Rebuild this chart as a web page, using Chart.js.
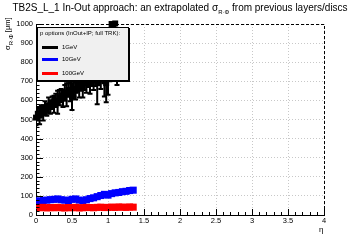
<!DOCTYPE html>
<html>
<head>
<meta charset="utf-8">
<script src="https://cdn.jsdelivr.net/npm/chart.js@4.4.0/dist/chart.umd.min.js"></script>
<style>
html, body { margin: 0; padding: 0; background: #fff; }
#wrap { position: relative; width: 360px; height: 240px; font-family: "Liberation Sans", Arial, sans-serif; color: #000; }
#wrap canvas { position: absolute; left: 0; top: 0; }
#title { position: absolute; left: 0; top: 2px; width: 360px; text-align: center; font-size: 10px; white-space: nowrap; }
#title sub, #ytitle sub { font-size: 6px; vertical-align: -3px; line-height: 0; }
#ytitle { position: absolute; left: 3px; top: 50px; font-size: 7.5px; white-space: nowrap; transform: rotate(-90deg); transform-origin: left top; line-height: 9px; }
#xtitle { position: absolute; left: 319px; top: 225px; font-size: 8px; }
#legend { position: absolute; left: 37px; top: 27px; width: 90px; height: 52px; background: #f0f0f0; border: 1px solid #000; box-shadow: 1px 1px 0 #000; font-size: 6px; }
#legend .hd { position: absolute; left: 2px; top: 2px; white-space: nowrap; }
#legend .ln { position: absolute; left: 4px; width: 16px; height: 3px; }
#legend .tx { position: absolute; left: 24px; white-space: nowrap; }
</style>
</head>
<body>
<div id="wrap">
  <canvas id="chart" width="360" height="240"></canvas>
  <div id="title">TB2S_L_1 In-Out approach: an extrapolated σ<sub>R·Φ</sub> from previous layers/discs</div>
  <div id="ytitle">σ<sub>R·Φ</sub> [μm]</div>
  <div id="xtitle">η</div>
  <div id="legend">
    <div class="hd">p options (InOut+IP; full TRK):</div>
    <div class="ln" style="top:18px;background:#000"></div><div class="tx" style="top:16px">1GeV</div>
    <div class="ln" style="top:30px;background:#0000ff"></div><div class="tx" style="top:28px">10GeV</div>
    <div class="ln" style="top:44px;background:#ff0000"></div><div class="tx" style="top:42px">100GeV</div>
  </div>
</div>
<script>
// 1 GeV points (eta, sigma in um, error)
const etaBlack = [0.000, 0.025, 0.050, 0.075, 0.100, 0.125, 0.150, 0.175, 0.200, 0.225,
                  0.250, 0.275, 0.300, 0.325, 0.350, 0.375, 0.400, 0.425, 0.450, 0.475,
                  0.500, 0.525, 0.550, 0.575, 0.600, 0.625, 0.650, 0.675, 0.700, 0.725,
                  0.750, 0.775, 0.800, 0.825, 0.850, 0.875, 0.900, 0.925, 0.950, 0.975,
                  1.000, 1.025, 1.050, 1.075, 1.100, 1.125];
const sigmaBlack = [510, 530, 520, 545, 535, 560, 550, 575, 565, 590,
                    580, 600, 590, 615, 625, 610, 640, 630, 655, 645,
                    620, 660, 650, 680, 665, 690, 675, 700, 690, 710,
                    695, 720, 705, 735, 690, 745, 730, 760, 700, 690,
                    720, 780, 1000, 990, 1003, 760];
const errBlack = [40, 35, 45, 30, 40, 35, 30, 40, 35, 30,
                  45, 35, 60, 40, 35, 45, 40, 60, 35, 50,
                  70, 40, 45, 35, 50, 40, 60, 45, 50, 40,
                  60, 45, 50, 60, 110, 50, 70, 60, 80, 100,
                  90, 80, 40, 30, 30, 80];

// 10 GeV and 100 GeV points
const etaFine = [0.00, 0.05, 0.10, 0.15, 0.20, 0.25, 0.30, 0.35, 0.40, 0.45,
                 0.50, 0.55, 0.60, 0.65, 0.70, 0.75, 0.80, 0.85, 0.90, 0.95,
                 1.00, 1.05, 1.10, 1.15, 1.20, 1.25, 1.30, 1.35];
const sigma10 = [74, 72, 76, 78, 80, 82, 84, 80, 78, 76,
                 82, 84, 78, 74, 80, 86, 90, 96, 102, 108,
                 104, 112, 116, 118, 122, 124, 128, 130];
const sigma100 = [40, 38, 40, 37, 39, 38, 40, 38, 37, 39,
                  38, 40, 37, 38, 40, 39, 38, 40, 41, 39,
                  40, 41, 40, 42, 41, 40, 42, 41];

const xTicksMajor = 0.5, xTicksMinor = 0.1;
const yTicksMajor = 100, yTicksMinor = 20;

const toPoints = (xs, ys) => xs.map((x, i) => ({ x: x, y: ys[i] }));

// ROOT-like frame: inside ticks, dashed top/right edge, error bars
const rootFrame = {
    id: 'rootFrame',
    beforeDatasetsDraw(chart) {
        const { ctx, chartArea: a, scales: { x, y } } = chart;
        ctx.save();
        ctx.beginPath();
        ctx.rect(a.left, a.top, a.right - a.left, a.bottom - a.top);
        ctx.clip();
        ctx.strokeStyle = '#000';
        ctx.lineWidth = 2;
        etaBlack.forEach((e, i) => {
            const px = x.getPixelForValue(e);
            const y1 = y.getPixelForValue(sigmaBlack[i] - errBlack[i]);
            const y2 = y.getPixelForValue(sigmaBlack[i] + errBlack[i]);
            ctx.beginPath();
            ctx.moveTo(px, y1); ctx.lineTo(px, y2);
            ctx.moveTo(px - 2.5, y1); ctx.lineTo(px + 2.5, y1);
            ctx.moveTo(px - 2.5, y2); ctx.lineTo(px + 2.5, y2);
            ctx.stroke();
        });
        ctx.restore();
    },
    afterDraw(chart) {
        const { ctx, chartArea: a, scales: { x, y } } = chart;
        ctx.save();
        ctx.strokeStyle = '#000';
        ctx.lineWidth = 1;
        ctx.beginPath();
        for (let v = 0; v <= 4.0001; v += xTicksMinor) {
            const px = Math.round(x.getPixelForValue(v)) + 0.5;
            const major = Math.abs(v / xTicksMajor - Math.round(v / xTicksMajor)) < 1e-6;
            ctx.moveTo(px, a.bottom);
            ctx.lineTo(px, a.bottom - (major ? 6 : 3));
        }
        for (let v = 0; v <= 1000; v += yTicksMinor) {
            const py = Math.round(y.getPixelForValue(v)) + 0.5;
            const major = v % yTicksMajor === 0;
            ctx.moveTo(a.left, py);
            ctx.lineTo(a.left + (major ? 7 : 3.5), py);
        }
        ctx.stroke();
        // dashed top and right frame
        ctx.setLineDash([3, 2]);
        ctx.beginPath();
        ctx.moveTo(a.left, Math.round(a.top) + 0.5);
        ctx.lineTo(Math.round(a.right) + 0.5, Math.round(a.top) + 0.5);
        ctx.lineTo(Math.round(a.right) + 0.5, a.bottom);
        ctx.stroke();
        ctx.restore();
    }
};

const tickFont = { family: '"Liberation Sans", Arial, sans-serif', size: 7.5 };
const plainNumber = v => String(Math.round(v * 1000) / 1000);

new Chart(document.getElementById('chart'), {
    type: 'scatter',
    data: {
        datasets: [
            { label: '100GeV', data: toPoints(etaFine, sigma100), backgroundColor: '#ff0000', borderColor: '#ff0000',
              pointStyle: 'rect', pointRadius: 5, borderWidth: 0 },
            { label: '10GeV', data: toPoints(etaFine, sigma10), backgroundColor: '#0000ff', borderColor: '#0000ff',
              pointStyle: 'rect', pointRadius: 5, borderWidth: 0 },
            { label: '1GeV', data: toPoints(etaBlack, sigmaBlack), backgroundColor: '#000', borderColor: '#000',
              pointStyle: 'rect', pointRadius: 4.2, borderWidth: 0, clip: false }
        ]
    },
    options: {
        responsive: false,
        animation: false,
        events: [],
        layout: { padding: { top: 24, right: 36, left: 0, bottom: 0 } },
        plugins: { legend: { display: false }, title: { display: false }, tooltip: { enabled: false } },
        scales: {
            x: {
                type: 'linear', min: 0, max: 4,
                ticks: { stepSize: xTicksMajor, color: '#000', font: tickFont, padding: 1, maxRotation: 0, callback: plainNumber },
                grid: { color: '#c8c8c8', drawTicks: false, lineWidth: 1 },
                border: { color: '#000', width: 1, dash: [1, 2] },
                afterFit: s => { s.height = 25; }
            },
            y: {
                type: 'linear', min: 0, max: 1000,
                ticks: { stepSize: yTicksMajor, color: '#000', font: tickFont, padding: 3, callback: plainNumber },
                grid: { color: '#c8c8c8', drawTicks: false, lineWidth: 1 },
                border: { color: '#000', width: 1, dash: [1, 2] },
                afterFit: s => { s.width = 36; }
            }
        }
    },
    plugins: [rootFrame]
});
</script>
</body>
</html>
